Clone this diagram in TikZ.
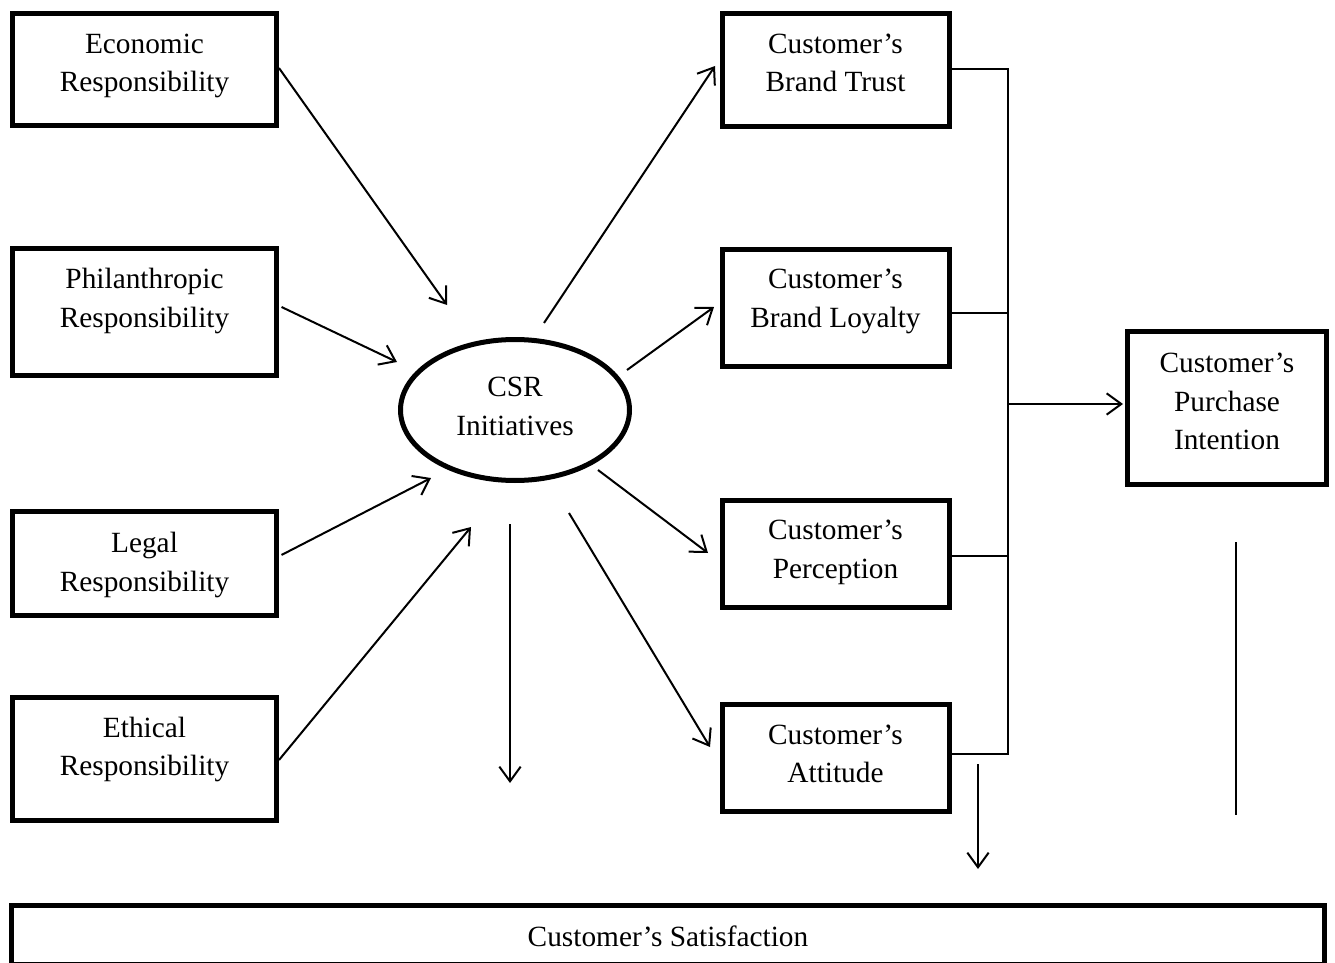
\documentclass[tikz,border=0pt]{standalone}
\usepackage{fontspec}
\setmainfont{Liberation Serif}
\usetikzlibrary{shapes.geometric,arrows.meta}
\begin{document}
\begin{tikzpicture}[x=0.75pt,y=-0.75pt,
  font=\fontsize{22}{29}\selectfont,
  box/.style={draw, line width=3.75pt, inner sep=0pt},
  oval/.style={draw, ellipse, line width=3.75pt, inner sep=0pt},
  lbl/.style 2 args={label={[align=center,yshift=#1*0.75pt]center:#2}},
  arr/.style={line width=1.5pt, -{Straight Barb[length=11pt,width=16pt]}},
  bline/.style={line width=1.25pt},
  vline/.style={line width=1.5pt}]
\useasboundingbox (0,0) rectangle (1335,963);

% left boxes
\node[box, minimum width=198pt, minimum height=84pt, lbl={3.5}{Economic\\Responsibility}] (eco) at (144.5,69.5) {};
\node[box, minimum width=198pt, minimum height=95.25pt, lbl={11}{Philanthropic\\Responsibility}] (phil) at (144.5,312) {};
\node[box, minimum width=198pt, minimum height=78pt, lbl={-1.5}{Legal\\Responsibility}] (legal) at (144.5,563.5) {};
\node[box, minimum width=198pt, minimum height=92.25pt, lbl={9.5}{Ethical\\Responsibility}] (ethic) at (144.5,759) {};

% centre
\node[oval, minimum width=171.75pt, minimum height=105.75pt, lbl={3.5}{CSR\\Initiatives}] (csr) at (515,410) {};

% right boxes
\node[box, minimum width=170.25pt, minimum height=84.4pt, lbl={7}{Customer’s\\Brand Trust}] (trust) at (835.5,70) {};
\node[box, minimum width=170.25pt, minimum height=87.75pt, lbl={6.5}{Customer’s\\Brand Loyalty}] (loyal) at (835.5,308) {};
\node[box, minimum width=170.25pt, minimum height=79.9pt, lbl={1.5}{Customer’s\\Perception}] (perc) at (835.5,554) {};
\node[box, minimum width=170.25pt, minimum height=79.9pt, lbl={4}{Customer’s\\Attitude}] (att) at (835.5,758) {};

\node[box, minimum width=149.25pt, minimum height=114.75pt, lbl={6.5}{Customer’s\\Purchase\\Intention}] (purch) at (1227,408) {};
\node[box, minimum width=984.75pt, minimum height=44.25pt, lbl={-1}{Customer’s Satisfaction}] (sat) at (668,935) {};

% free ends
\coordinate (ecoIn) at (447,305);
\coordinate (philIn) at (397,362);
\coordinate (legalIn) at (431,478);
\coordinate (ethicIn) at (471,527);
\coordinate (csrDown0) at (510,524);
\coordinate (csrDown1) at (510,783);
\coordinate (csrT) at (544,323);
\coordinate (trustIn) at (715,66);
\coordinate (csrL) at (627,370);
\coordinate (loyalIn) at (714,307);
\coordinate (csrP) at (598,470);
\coordinate (percIn) at (708,553);
\coordinate (csrA) at (569,513);
\coordinate (attIn) at (710,747);
\coordinate (bT) at (1008,69);
\coordinate (bL) at (1008,313);
\coordinate (bP) at (1008,556);
\coordinate (bA) at (1008,754);
\coordinate (bus) at (1008,404);
\coordinate (attD0) at (978,764);
\coordinate (satIn) at (978,869);
\coordinate (v0) at (1236,542);
\coordinate (v1) at (1236,815);

% inputs to CSR
\draw[arr] ([yshift=1.1pt]eco.east) -- (ecoIn);
\draw[arr] ([xshift=1.9pt,yshift=3.75pt]phil.east) -- (philIn);
\draw[arr] ([xshift=1.9pt,yshift=6.4pt]legal.east) -- (legalIn);
\draw[arr] ([yshift=-0.75pt]ethic.east) -- (ethicIn);

% outputs from CSR
\draw[arr] (csrDown0) -- (csrDown1);
\draw[arr] (csrT) -- (trustIn);
\draw[arr] (csrL) -- (loyalIn);
\draw[arr] (csrP) -- (percIn);
\draw[arr] (csrA) -- (attIn);

% bracket to purchase intention
\draw[bline] (trust.east |- bT) -- (bT) -- (bA) -- (att.east |- bA);
\draw[bline] (loyal.east |- bL) -- (bL);
\draw[bline] (perc.east |- bP) -- (bP);
\draw[arr] (bus) -- ([xshift=-1.5pt]purch.west |- bus);

% to satisfaction
\draw[arr] (attD0) -- (satIn);
\draw[vline] (v0) -- (v1);
\end{tikzpicture}
\end{document}
